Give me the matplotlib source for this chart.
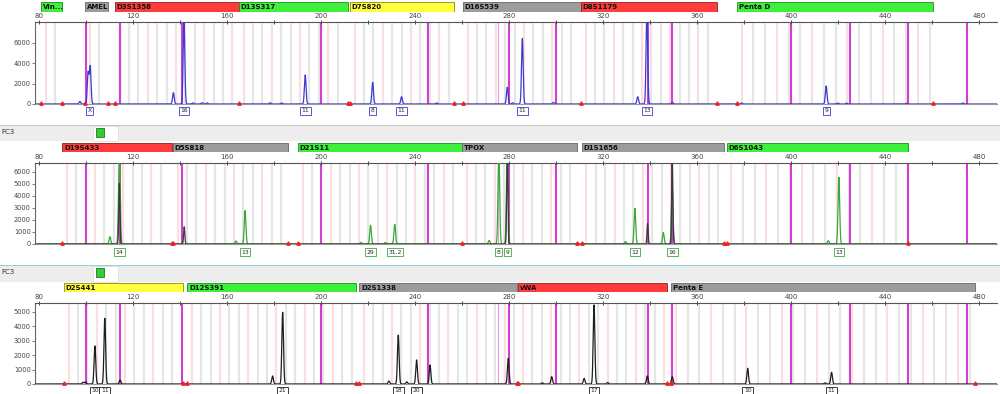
import numpy as np
import matplotlib.pyplot as plt
from matplotlib.patches import Rectangle

W, H = 1000, 394
XMIN, XMAX = 78.3, 487.7

# size standard lines (bp), shown in all three dye panels
ils_bp = [100, 114.5, 141, 200, 245.5, 280, 300, 339, 349.5, 400, 425, 450, 475]
ils_faint_bp = [275.5]

# ---- panel 1 (blue dye) ----
p1_loci = ["Vin...", "AMEL", "D3S1358", "D13S317", "D7S820", "D16S539", "D8S1179", "Penta D"]
p1_start = [80.9, 99.6, 112.3, 165.1, 212.3, 260.4, 310.6, 377.0]
p1_end = [89.8, 109.4, 165.1, 211.5, 256.6, 310.6, 368.4, 460.3]
p1_kind = ["green", "gray", "red", "green", "yellow", "gray", "red", "green"]
p1_peak_bp = [97.4, 100.9, 101.8, 137.2, 141.7, 145.5, 149.4, 151.5, 178.3, 183.3, 193.3,
              222.0, 234.3, 249.2, 279.3, 281.6, 285.7, 298.9, 334.8, 338.7, 349.5,
              379.0, 415.0, 420.0, 423.7, 449.2, 473.2]
p1_peak_h = [250, 3050, 3640, 1100, 8200, 100, 130, 110, 120, 100, 2830,
             2110, 710, 110, 1630, 120, 6400, 150, 710, 9000, 150,
             100, 1760, 90, 80, 60, 100]
p1_allele_bp = [101.6, 141.7, 193.3, 222.0, 234.3, 285.7, 338.7, 415.0]
p1_allele_txt = ["X", "16", "11", "8", "11", "11", "13", "9"]

# ---- panel 2 (green dye) ----
p2_loci = ["D19S433", "D5S818", "D21S11", "TPOX", "D1S1656", "D6S1043"]
p2_start = [89.8, 137.0, 190.2, 260.0, 311.0, 372.6]
p2_end = [136.6, 186.0, 260.0, 309.0, 371.5, 449.9]
p2_kind = ["red", "gray", "green", "gray", "gray", "green"]
p2_peak_bp = [110.2, 114.2, 163.8, 167.7, 217.0, 221.1, 227.4, 231.4, 271.6, 275.7,
              279.3, 329.6, 333.6, 345.7, 349.5, 415.9, 420.4]
p2_peak_h = [610, 8000, 250, 2780, 120, 1560, 130, 1640, 300, 8000,
             8000, 200, 2970, 970, 4500, 280, 5560]
p2_dark_bp = [114.2, 141.8, 279.3, 339.0, 349.5]
p2_dark_h = [5060, 1440, 8000, 1720, 7000]
p2_allele_bp = [114.2, 167.7, 221.1, 231.4, 275.7, 279.3, 333.6, 349.5, 420.4]
p2_allele_txt = ["14", "13", "29", "31.2", "8", "9", "12", "16", "13"]

# ---- panel 3 (yellow dye, drawn black) ----
p3_loci = ["D2S441", "D12S391", "D2S1338", "vWA", "Penta E"]
p3_start = [90.6, 143.0, 216.2, 284.0, 349.0]
p3_end = [141.3, 214.9, 283.3, 347.1, 478.3]
p3_kind = ["yellow", "green", "gray", "red", "gray"]
p3_peak_bp = [98.7, 99.8, 103.8, 108.0, 114.5, 179.4, 183.7, 228.9, 232.9, 236.5,
              240.7, 246.4, 279.7, 294.2, 298.2, 312.0, 316.2, 322.0, 338.9, 349.5,
              381.6, 414.5, 417.3]
p3_peak_h = [120, 150, 2640, 4560, 280, 560, 4980, 200, 3400, 150,
             1670, 1320, 1780, 80, 510, 390, 5490, 100, 560, 510,
             1090, 80, 810]
p3_allele_bp = [103.8, 108.0, 183.7, 232.9, 240.7, 316.2, 381.6, 417.3]
p3_allele_txt = ["10", "11", "21", "18", "20", "17", "10", "11"]

bar_colors = {"red": "#ff3b3b", "green": "#3cf03c", "gray": "#9c9c9c", "yellow": "#ffff40"}
bar_edges = {"red": "#8a2020", "green": "#208a20", "gray": "#666666", "yellow": "#8a8a10"}

fig = plt.figure(figsize=(W / 100, H / 100), dpi=100)
fig.patch.set_facecolor("white")


def px_axes(x0, y0, x1, y1):
    return fig.add_axes([x0 / W, 1 - y1 / H, (x1 - x0) / W, (y1 - y0) / H])


def trace(grid, bps, hs, sigma=0.35):
    y = np.zeros_like(grid)
    for b, h in zip(bps, hs):
        y += h * np.exp(-0.5 * ((grid - b) / sigma) ** 2)
    return y


grid = np.linspace(XMIN, XMAX, 8000)


def draw_panel(top, bottom, bar_top, bar_bottom, ymax, yticks, loci, starts, ends, kinds,
               peak_bp, peak_h, color, allele_bp, allele_txt, label_px,
               dark_bp=None, dark_h=None):
    # locus bars
    bax = px_axes(35, bar_top, 997, bar_bottom)
    bax.set_xlim(XMIN, XMAX)
    bax.set_ylim(0, 1)
    bax.axis("off")
    for name, s, e, k in zip(loci, starts, ends, kinds):
        bax.add_patch(Rectangle((s, 0), e - s, 1, facecolor=bar_colors[k],
                                edgecolor=bar_edges[k], lw=0.6))
        bax.text(s + 0.8, 0.5, name, fontsize=5, fontweight="bold", color="#111111",
                 va="center", ha="left", clip_on=True)

    ax = px_axes(35, top, 997, bottom)
    ax.set_xlim(XMIN, XMAX)
    ax.set_ylim(0, ymax)

    # allele bins
    for s, e, k in zip(starts, ends, kinds):
        step = 5 if e - s > 75 else 4
        bins = np.arange(s + 2, e - 1, step)
        for i, b in enumerate(bins):
            c = "#fbdede" if i % 3 == 0 else "#e6e6e6"
            ax.axvline(b, color=c, lw=1.6, zorder=0)

    for b in ils_bp:
        ax.axvline(b, color="#d23fd2", lw=1.5, zorder=1)
    for b in ils_faint_bp:
        ax.axvline(b, color="#e39be3", lw=0.8, zorder=1)

    ax.plot(grid, trace(grid, peak_bp, peak_h), color=color, lw=0.9, zorder=3)
    if dark_bp is not None:
        ax.plot(grid, trace(grid, dark_bp, dark_h, 0.25), color="#3a3a3a", lw=0.9, zorder=4)

    # locus edge markers
    edges = sorted(set(starts) | set(ends))
    ax.plot(edges, [0.015] * len(edges), ls="none", marker="^", ms=2.4, color="#ee2020",
            transform=ax.get_xaxis_transform(), clip_on=False, zorder=5)

    # allele calls
    ly = -(label_px - bottom) / (bottom - top)
    for b, t in zip(allele_bp, allele_txt):
        ax.text(b, ly, t, fontsize=4.3, ha="center", va="center", color="#222222",
                transform=ax.get_xaxis_transform(), clip_on=False,
                bbox=dict(boxstyle="square,pad=0.25", facecolor="white", edgecolor=color, lw=0.6))

    ax.xaxis.tick_top()
    ax.set_xticks(np.arange(80, 481, 40))
    ax.set_xticks(np.arange(100, 481, 40), minor=True)
    ax.tick_params(axis="x", which="both", direction="inout", length=3, width=0.7,
                   colors="#444444", labelsize=5, pad=1)
    ax.set_yticks(yticks)
    ax.tick_params(axis="y", direction="out", length=2, width=0.5, colors="#444444",
                   labelsize=4.8, pad=1)
    for side in ("top", "left", "bottom"):
        ax.spines[side].set_linewidth(0.8)
    ax.spines["top"].set_color("#555555")
    ax.spines["left"].set_color("#666666")
    ax.spines["bottom"].set_color("#999999")
    ax.spines["right"].set_visible(False)
    return ax


draw_panel(22, 104, 2, 12, 8000, [0, 2000, 4000, 6000], p1_loci, p1_start, p1_end, p1_kind,
           p1_peak_bp, p1_peak_h, "#3b3bd0", p1_allele_bp, p1_allele_txt, 111)
draw_panel(163, 244, 143, 152, 6750, [0, 1000, 2000, 3000, 4000, 5000, 6000], p2_loci, p2_start,
           p2_end, p2_kind, p2_peak_bp, p2_peak_h, "#3aa83a", p2_allele_bp, p2_allele_txt, 252,
           p2_dark_bp, p2_dark_h)
draw_panel(303, 384, 283, 292, 5620, [0, 1000, 2000, 3000, 4000, 5000], p3_loci, p3_start,
           p3_end, p3_kind, p3_peak_bp, p3_peak_h, "#1e1e1e", p3_allele_bp, p3_allele_txt, 391)

# separator bands between dye panels
for y0, y1, line_c in [(125, 141, "#c4c4c4"), (265, 282, "#8fd3d8")]:
    fig.patches.append(Rectangle((0, 1 - y1 / H), 1, (y1 - y0) / H, transform=fig.transFigure,
                                 facecolor="#ededed", edgecolor="none", zorder=0))
    fig.patches.append(Rectangle((0, 1 - (y0 + 1) / H), 1, 1.2 / H, transform=fig.transFigure,
                                 facecolor=line_c, edgecolor="none", zorder=1))
    fig.patches.append(Rectangle((93 / W, 1 - y1 / H), 25 / W, (y1 - y0 - 1) / H,
                                 transform=fig.transFigure, facecolor="white",
                                 edgecolor="#d8d8d8", lw=0.5, zorder=1))
    fig.patches.append(Rectangle((96 / W, 1 - (y0 + 12) / H), 8 / W, 9 / H,
                                 transform=fig.transFigure, facecolor="#33cc33",
                                 edgecolor="#1d7a1d", lw=0.6, zorder=2))
    fig.text(0.001, 1 - (y0 + 7) / H, "FC3", fontsize=5, color="#333333", va="center")

fig.savefig("out.png", dpi=100)
